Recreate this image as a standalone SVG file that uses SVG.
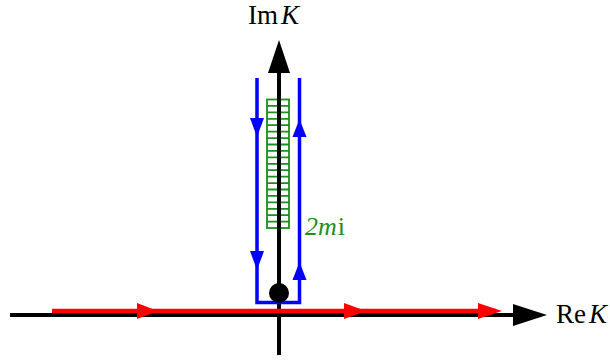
<svg xmlns="http://www.w3.org/2000/svg" width="610" height="360" viewBox="0 0 610 360">
<style>
.ax{stroke:#000;stroke-width:4;fill:none}
.red{stroke:#f00;stroke-width:4.5;fill:none}
.blue{stroke:#00f;stroke-width:3.5;fill:none}
.grid{stroke:#1a8f1a;stroke-width:1.8;fill:none}
.lbl{font-family:"Liberation Serif",serif;font-size:27px;fill:#000}
.glbl{font-family:"Liberation Serif",serif;font-size:26px;fill:#1a8f1a}
</style>
<rect width="610" height="360" fill="#fff"/>
<g id="green-strip">
<rect class="grid" x="267" y="99.5" width="22" height="128.5"/>
<path class="grid" d="M278,99.5V228 M267,105.9H289 M267,112.4H289 M267,118.8H289 M267,125.2H289 M267,131.6H289 M267,138.1H289 M267,144.5H289 M267,150.9H289 M267,157.4H289 M267,163.8H289 M267,170.2H289 M267,176.6H289 M267,183.1H289 M267,189.5H289 M267,195.9H289 M267,202.4H289 M267,208.8H289 M267,215.2H289 M267,221.6H289"/>
</g>
<g id="axes">
<line class="ax" x1="10" y1="315" x2="516" y2="315"/>
<polygon points="513,304 547,315 513,326" fill="#000"/>
<line class="ax" x1="279" y1="355" x2="279" y2="70"/>
<polygon points="268,73 279,40 290,73" fill="#000"/>
</g>
<g id="connectors">
<line class="red" x1="52" y1="311" x2="496" y2="311"/>
<polygon points="137,303 158,311 137,319" fill="#f00"/>
<polygon points="344,303 366,311 344,319" fill="#f00"/>
<polygon points="478,303 502,311 478,319" fill="#f00"/>
<path class="blue" d="M257,78V302.5H299.5V78"/>
<polygon points="250,118 264,118 257,137" fill="#00f"/>
<polygon points="250,251 264,251 257,270" fill="#00f"/>
<polygon points="292.5,137 306.5,137 299.5,119" fill="#00f"/>
<polygon points="292.5,280 306.5,280 299.5,262" fill="#00f"/>
</g>
<g id="pole">
<circle cx="279" cy="293" r="10" fill="#000"/>
</g>
<g id="labels">
<text class="lbl" x="248" y="24">Im<tspan dx="3" font-style="italic">K</tspan></text>
<text class="lbl" x="556" y="323">Re<tspan dx="3" font-style="italic">K</tspan></text>
<text class="glbl" x="305" y="235"><tspan font-style="italic">2m</tspan><tspan dx="1">i</tspan></text>
</g>
</svg>
